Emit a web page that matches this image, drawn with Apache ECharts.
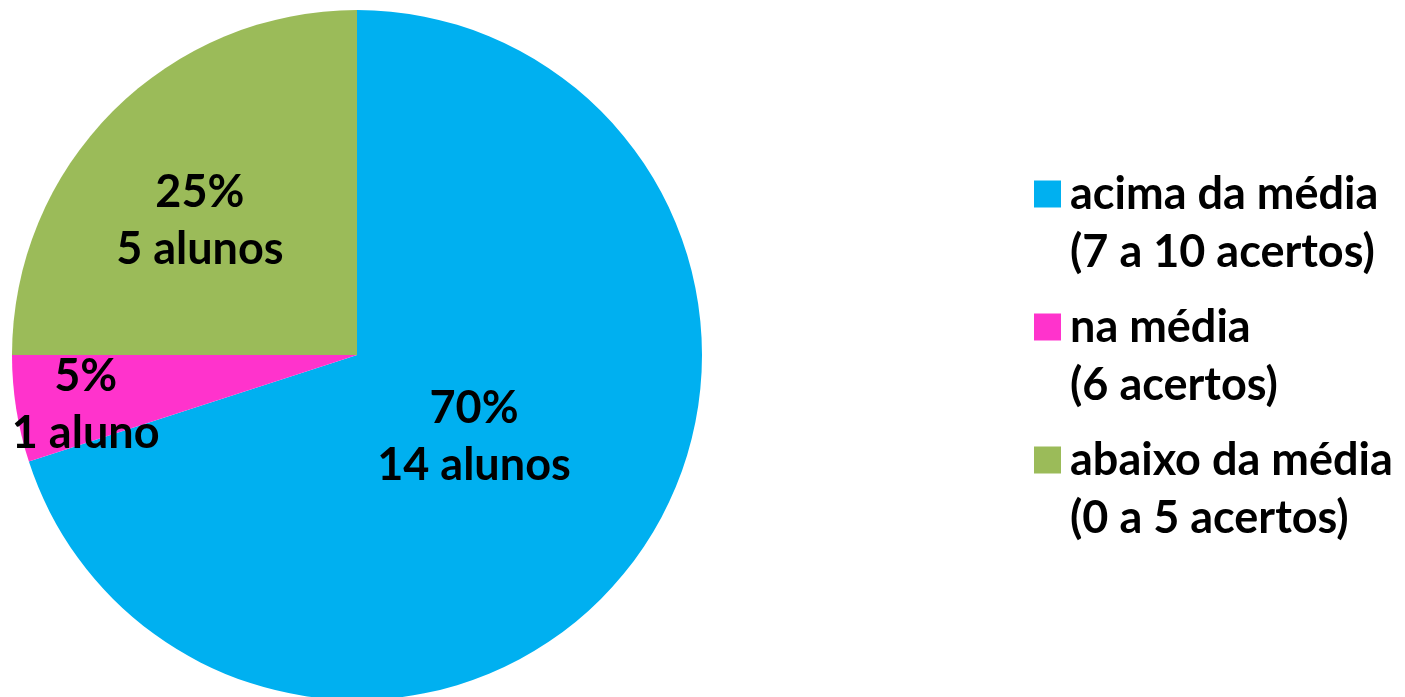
<!DOCTYPE html>
<html><head><meta charset="utf-8">
<script src="https://cdn.jsdelivr.net/npm/echarts@6/dist/echarts.min.js"></script>
<style>html,body{margin:0;padding:0;background:#fff}#c{width:1405px;height:697px}</style>
</head><body><div id="c"></div>
<script>
const categories = ['acima da média\n(7 a 10 acertos)', 'na média\n(6 acertos)', 'abaixo da média\n(0 a 5 acertos)'];
const students = [14, 1, 5];
const countLabels = ['14 alunos', '1 aluno', '5 alunos'];
const colors = ['#00B0F0', '#FF33CC', '#9BBB59'];
const labelOffsets = [[-25, -21], [-98, 23], [-33, -10]];

const FONT = 'Lato';
const chart = echarts.init(document.getElementById('c'));
chart.setOption({
  animation: false,
  backgroundColor: '#fff',
  legend: {
    orient: 'vertical',
    left: 1034,
    top: 107,
    padding: 0,
    itemWidth: 27,
    itemHeight: 27,
    itemGap: -41,
    icon: 'rect',
    selectedMode: false,
    data: categories,
    formatter: n => '\n' + n,
    textStyle: {
      fontFamily: FONT, fontWeight: 'bold', fontSize: 45, color: '#000',
      lineHeight: 58, padding: [0, 0, 0, 4]
    }
  },
  series: [{
    type: 'pie',
    center: [357, 355],
    radius: 345,
    startAngle: 90,
    clockwise: true,
    silent: true,
    labelLine: { show: false },
    data: categories.map((n, i) => ({
      name: n,
      value: students[i],
      itemStyle: { color: colors[i] },
      label: { offset: labelOffsets[i] }
    })),
    label: {
      position: 'inside',
      fontFamily: FONT, fontWeight: 'bold', fontSize: 45, color: '#000',
      lineHeight: 57, align: 'center',
      formatter: p => Math.round(p.percent) + '%\n' + countLabels[p.dataIndex]
    }
  }]
});
</script></body></html>
